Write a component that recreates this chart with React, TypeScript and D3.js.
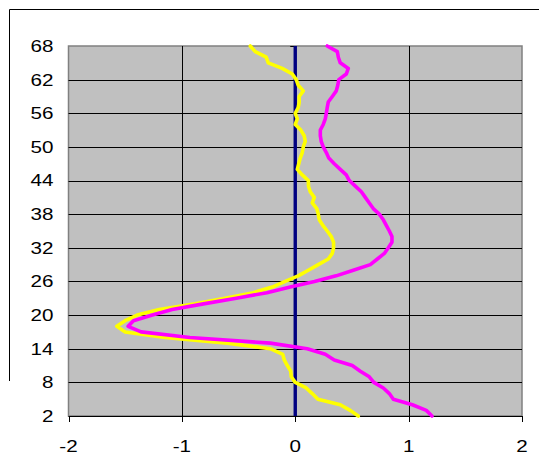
import React from "react";
import * as d3 from "d3";

const depths: number[] = d3.range(68, 1, -1);
// values listed from depth 68 down to depth 2
const yellowValues: number[] = [
  -0.397, -0.353, -0.256, -0.238, -0.115, -0.026, 0.009, 0.026, 0.071, 0.035,
  0.035, 0.026, 0.0, 0.018, 0.0, 0.049, 0.079, 0.088, 0.071, 0.062,
  0.044, 0.031, 0.018, 0.062, 0.115, 0.117, 0.132, 0.168, 0.15, 0.19,
  0.203, 0.212, 0.243, 0.282, 0.318, 0.338, 0.338, 0.327, 0.291, 0.203,
  0.115, 0.026, -0.088, -0.203, -0.37, -0.618, -0.883, -1.2, -1.394, -1.5,
  -1.574, -1.5, -1.15, -0.6, -0.22, -0.11, -0.097, -0.07, -0.04, -0.035,
  0.0, 0.097, 0.15, 0.2, 0.397, 0.485, 0.556,
];
const magentaValues: number[] = [
  0.282, 0.371, 0.38, 0.397, 0.468, 0.45, 0.384, 0.375, 0.362, 0.327,
  0.291, 0.282, 0.274, 0.265, 0.247, 0.221, 0.221, 0.229, 0.247, 0.274,
  0.296, 0.344, 0.397, 0.45, 0.477, 0.53, 0.583, 0.618, 0.653, 0.688,
  0.741, 0.777, 0.803, 0.83, 0.853, 0.853, 0.821, 0.786, 0.724, 0.662,
  0.512, 0.36, 0.17, -0.044, -0.25, -0.52, -0.81, -1.086, -1.26, -1.427,
  -1.474, -1.36, -0.93, -0.22, 0.106, 0.265, 0.344, 0.503, 0.574, 0.653,
  0.693, 0.777, 0.83, 0.865, 1.033, 1.156, 1.206,
];
const zeroValues: number[] = depths.map(() => 0);

const xTicks: number[] = [-2, -1, 0, 1, 2];
const yTicks: number[] = [2, 8, 14, 20, 26, 32, 38, 44, 50, 56, 62, 68];

const W = 539;
const H = 476;
const left = 68.5;
const right = 522;
const top = 46;
const bottom = 416;

export default function App() {
  const x = d3.scaleLinear().domain([-2, 2]).range([left, right]);
  const y = d3.scaleLinear().domain([2, 68]).range([bottom, top]);

  const mk = (vals: number[]) =>
    d3
      .line<number>()
      .x((v) => x(v))
      .y((_, i) => y(depths[i]))(vals) || "";

  const font = "'Liberation Sans', Arial, sans-serif";
  const fs = 16.5;
  const sx = 1.25;

  return (
    <svg
      width={W}
      height={H}
      style={{ position: "absolute", left: 0, top: 0, background: "#fff" }}
    >
      {/* chart area border (partial) */}
      <line x1={9.5} y1={9.5} x2={W} y2={9.5} stroke="#000" strokeWidth={1} />
      <line x1={9.5} y1={9.5} x2={9.5} y2={381} stroke="#000" strokeWidth={1} />

      {/* plot area */}
      <rect
        x={left}
        y={top}
        width={right - left}
        height={bottom - top}
        fill="#C0C0C0"
        stroke="#808080"
        strokeWidth={1.5}
      />
      {yTicks.slice(1, -1).map((t) => (
        <line
          key={"h" + t}
          x1={left}
          x2={right}
          y1={Math.round(y(t)) + 0.5}
          y2={Math.round(y(t)) + 0.5}
          stroke="#000"
          strokeWidth={1}
        />
      ))}
      {xTicks.slice(1, -1).map((t) => (
        <line
          key={"v" + t}
          y1={top}
          y2={bottom}
          x1={Math.round(x(t)) + 0.5}
          x2={Math.round(x(t)) + 0.5}
          stroke="#000"
          strokeWidth={1}
        />
      ))}

      {/* y axis ticks at x = 0 */}
      {yTicks.map((t) => (
        <line
          key={"yt" + t}
          x1={x(0) - 5}
          x2={x(0)}
          y1={Math.round(y(t)) + 0.5}
          y2={Math.round(y(t)) + 0.5}
          stroke="#000"
          strokeWidth={1}
        />
      ))}

      {/* x axis */}
      <line x1={left} x2={right} y1={bottom + 0.5} y2={bottom + 0.5} stroke="#000" strokeWidth={1} />
      {xTicks.map((t) => (
        <line
          key={"xt" + t}
          x1={Math.round(x(t)) + 0.5}
          x2={Math.round(x(t)) + 0.5}
          y1={bottom}
          y2={bottom + 6}
          stroke="#000"
          strokeWidth={1}
        />
      ))}

      {/* series */}
      <path d={mk(zeroValues)} fill="none" stroke="#000080" strokeWidth={3.4} />
      <path
        d={mk(yellowValues)}
        fill="none"
        stroke="#FFFF00"
        strokeWidth={3.6}
        strokeLinejoin="round"
        strokeLinecap="round"
      />
      <path
        d={mk(magentaValues)}
        fill="none"
        stroke="#FF00FF"
        strokeWidth={3.6}
        strokeLinejoin="round"
        strokeLinecap="round"
      />

      {/* labels */}
      {yTicks.map((t) => (
        <text
          key={"yl" + t}
          transform={`translate(53.5,${y(t)}) scale(${sx},1)`}
          dy="0.36em"
          textAnchor="end"
          fontFamily={font}
          fontSize={fs}
          fill="#000"
        >
          {t}
        </text>
      ))}
      {xTicks.map((t) => (
        <text
          key={"xl" + t}
          transform={`translate(${x(t)},452) scale(${sx},1)`}
          textAnchor="middle"
          fontFamily={font}
          fontSize={fs}
          fill="#000"
        >
          {t}
        </text>
      ))}
    </svg>
  );
}
